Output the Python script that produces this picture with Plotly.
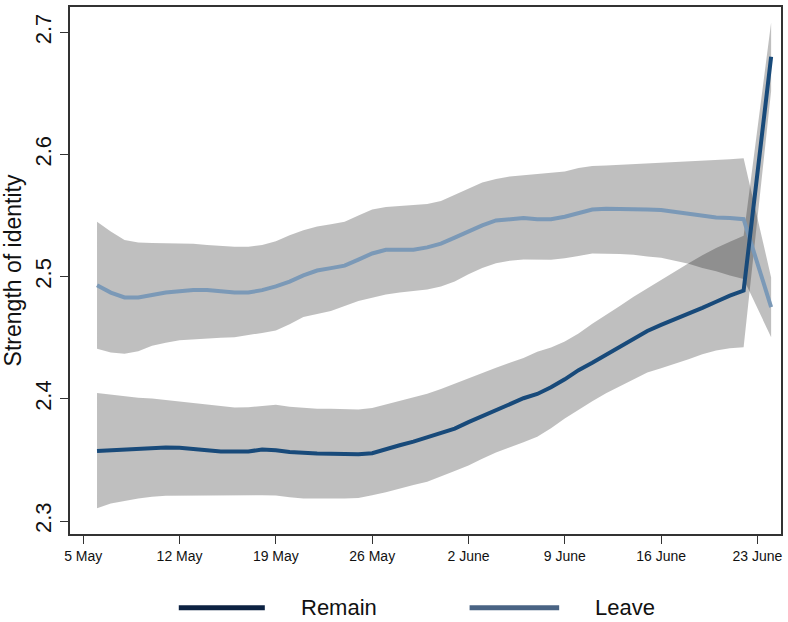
import plotly.graph_objects as go

# ---- data ----
dates = ([f"2016-05-{d:02d}" for d in range(6, 32)] +
         [f"2016-06-{d:02d}" for d in range(1, 23)] + ["2016-06-24"])

leave_mean = [2.493, 2.487, 2.483, 2.483, 2.485, 2.487, 2.488, 2.489, 2.489, 2.488,
              2.487, 2.487, 2.489, 2.492, 2.496, 2.501, 2.505, 2.507, 2.509, 2.514,
              2.519, 2.522, 2.522, 2.522, 2.524, 2.527,
              2.532, 2.537, 2.542, 2.546, 2.547, 2.548, 2.547, 2.547, 2.549, 2.552,
              2.555, 2.5555, 2.5555, 2.555, 2.555, 2.5545, 2.553, 2.5515, 2.550, 2.5485,
              2.548, 2.547, 2.475]
leave_upper = [2.545, 2.537, 2.530, 2.528, 2.5275, 2.5275, 2.5275, 2.527, 2.526, 2.525,
               2.5245, 2.5245, 2.526, 2.529, 2.534, 2.538, 2.541, 2.543, 2.545, 2.550,
               2.555, 2.557, 2.558, 2.559, 2.5595, 2.562,
               2.567, 2.572, 2.577, 2.580, 2.582, 2.583, 2.584, 2.585, 2.586, 2.589,
               2.5905, 2.591, 2.5915, 2.592, 2.593, 2.5935, 2.594, 2.5945, 2.595, 2.5955,
               2.596, 2.597, 2.4994]
leave_lower = [2.441, 2.438, 2.437, 2.439, 2.4435, 2.446, 2.448, 2.449, 2.4495, 2.450,
               2.4505, 2.452, 2.454, 2.456, 2.461, 2.467, 2.4695, 2.472, 2.476, 2.480,
               2.4825, 2.4855, 2.487, 2.4885, 2.4895, 2.492,
               2.496, 2.502, 2.507, 2.511, 2.513, 2.514, 2.514, 2.5138, 2.515, 2.517,
               2.519, 2.519, 2.5185, 2.518, 2.5165, 2.5155, 2.513, 2.5105, 2.507, 2.5045,
               2.501, 2.498, 2.4505]

remain_mean = [2.3574, 2.358, 2.3588, 2.3595, 2.360, 2.3602, 2.360, 2.3588, 2.358, 2.357,
               2.3569, 2.357, 2.3585, 2.358, 2.3565, 2.3555, 2.3553, 2.355, 2.3547, 2.3547,
               2.3555, 2.359, 2.362, 2.365, 2.3683, 2.372,
               2.3757, 2.381, 2.386, 2.391, 2.396, 2.4005, 2.404, 2.4095, 2.416, 2.4235,
               2.4295, 2.436, 2.4425, 2.449, 2.4555, 2.4605, 2.465, 2.4695, 2.4745, 2.4795,
               2.4845, 2.4886, 2.680]
remain_upper = [2.4048, 2.4035, 2.402, 2.401, 2.4002, 2.399, 2.3975, 2.396, 2.395, 2.3939,
                2.393, 2.3932, 2.3945, 2.3952, 2.3935, 2.3925, 2.392, 2.392, 2.3915, 2.3912,
                2.3925, 2.3955, 2.3985, 2.4015, 2.4042, 2.408,
                2.4124, 2.417, 2.4215, 2.4255, 2.4295, 2.4335, 2.4385, 2.442, 2.447, 2.4535,
                2.4615, 2.4685, 2.476, 2.4835, 2.4905, 2.497, 2.5045, 2.511, 2.5175, 2.5235,
                2.5285, 2.5335, 2.708]
remain_lower = [2.3104, 2.3144, 2.3165, 2.3185, 2.3198, 2.3207, 2.3212, 2.3212, 2.3212, 2.3212,
                2.3212, 2.3212, 2.3212, 2.321, 2.3195, 2.3185, 2.3185, 2.3185, 2.3185, 2.3188,
                2.3212, 2.3235, 2.3265, 2.3295, 2.3321, 2.3365,
                2.341, 2.3455, 2.351, 2.356, 2.3605, 2.3645, 2.369, 2.376, 2.384, 2.391,
                2.398, 2.4045, 2.4105, 2.416, 2.4215, 2.425, 2.4285, 2.4325, 2.4365, 2.4395,
                2.4415, 2.4423, 2.652]

tick_dates = ["2016-05-05", "2016-05-12", "2016-05-19", "2016-05-26",
              "2016-06-02", "2016-06-09", "2016-06-16", "2016-06-23"]
tick_labels = ["5 May", "12 May", "19 May", "26 May",
               "2 June", "9 June", "16 June", "23 June"]
y_ticks = [2.3, 2.4, 2.5, 2.6, 2.7]
series_names = ["Remain", "Leave"]

# ---- styles ----
BAND = "rgba(0,0,0,0.25)"
REMAIN_LINE = "#184a7a"
LEAVE_LINE = "#7b99b7"
REMAIN_LEG = "#0c2242"
LEAVE_LEG = "#4a6484"

fig = go.Figure()

for up, lo in [(remain_upper, remain_lower), (leave_upper, leave_lower)]:
    fig.add_trace(go.Scatter(
        x=dates + dates[::-1], y=up + lo[::-1],
        fill="toself", fillcolor=BAND, line=dict(width=0),
        mode="lines", hoverinfo="skip", showlegend=False))

fig.add_trace(go.Scatter(x=dates, y=leave_mean, mode="lines", name=series_names[1],
                         line=dict(color=LEAVE_LINE, width=4), showlegend=False))
fig.add_trace(go.Scatter(x=dates, y=remain_mean, mode="lines", name=series_names[0],
                         line=dict(color=REMAIN_LINE, width=4), showlegend=False))

# manual legend (below plot)
leg_y = -0.140
for (x0, x1, tx, col, name) in [(0.153, 0.274, 0.322, REMAIN_LEG, series_names[0]),
                                 (0.562, 0.688, 0.735, LEAVE_LEG, series_names[1])]:
    fig.add_shape(type="line", xref="paper", yref="paper", x0=x0, x1=x1, y0=leg_y, y1=leg_y,
                  line=dict(color=col, width=5))
    fig.add_annotation(xref="paper", yref="paper", x=tx, y=leg_y, text=name,
                       showarrow=False, xanchor="left", yanchor="middle",
                       font=dict(size=22, color="#111111", family="Liberation Sans, Arial"))

fig.update_layout(
    width=788, height=622,
    margin=dict(l=70, r=5, t=6, b=88),
    paper_bgcolor="white", plot_bgcolor="white",
    font=dict(family="Liberation Sans, Arial", color="#111111"),
    showlegend=False,
)
fig.update_xaxes(
    type="date",
    range=["2016-05-04 00:52", "2016-06-24 17:13"],
    tickvals=tick_dates, ticktext=tick_labels,
    tickfont=dict(size=14, family="Liberation Sans Narrow, Liberation Sans, Arial"),
    ticks="outside", ticklen=8, tickcolor="#333333", tickwidth=1.2,
    showline=True, linecolor="#333333", linewidth=1.5, mirror=True,
    showgrid=False, zeroline=False,
)
fig.update_yaxes(
    range=[2.2894, 2.7207],
    tickvals=y_ticks, ticktext=[f"{v:.1f}" for v in y_ticks],
    tickangle=-90, tickfont=dict(size=22),
    ticks="outside", ticklen=8, tickcolor="#333333", tickwidth=1.2,
    showline=True, linecolor="#333333", linewidth=1.5, mirror=True,
    showgrid=False, zeroline=False,
    title=dict(text="Strength of identity", font=dict(size=23), standoff=8),
)

fig.write_html("out.html", config={"displayModeBar": False},
               post_script="document.body.style.margin='0';")
